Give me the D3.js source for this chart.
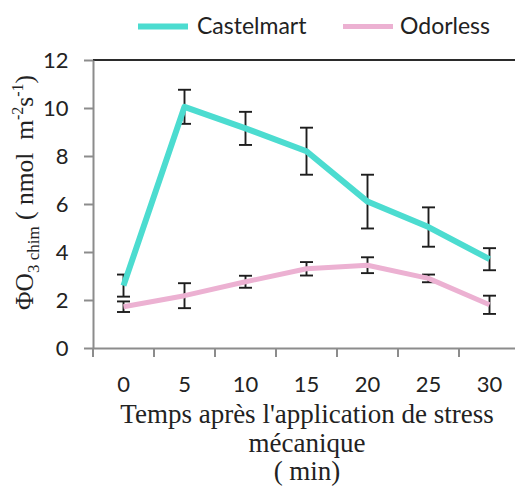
<!DOCTYPE html>
<html>
<head>
<meta charset="utf-8">
<script src="https://cdn.jsdelivr.net/npm/d3@7"></script>
<style>
  html, body { margin: 0; padding: 0; background: #fff; }
  svg { display: block; }
</style>
</head>
<body>
<script>
// Time points (min) after mechanical stress
const times = ["0", "5", "10", "15", "20", "25", "30"];
// Chemical ozone flux, mean and error per time point
const castelmart = [2.6, 10.05, 9.15, 8.2, 6.1, 5.04, 3.7];
const castelmartErr = [0.46, 0.71, 0.69, 0.98, 1.12, 0.82, 0.46];
const odorless = [1.72, 2.18, 2.76, 3.3, 3.45, 2.9, 1.8];
const odorlessErr = [0.22, 0.52, 0.25, 0.28, 0.33, 0.16, 0.38];
const yTicks = [0, 2, 4, 6, 8, 10, 12];

const series = [
  { name: "Castelmart", values: castelmart, errors: castelmartErr, color: "#4cdcd0", width: 6 },
  { name: "Odorless", values: odorless, errors: odorlessErr, color: "#ecb1d2", width: 5 }
];

const W = 515, H = 488;
const plotLeft = 93, plotTop = 60, plotBottom = 348, plotRight = 520;

const svg = d3.select("body").append("svg")
  .attr("width", W).attr("height", H);

const x = d3.scaleBand().domain(times).range([plotLeft, plotRight]).padding(0);
const y = d3.scaleLinear().domain([0, 12]).range([plotBottom, plotTop]);

const sansFont = "Lato, 'Open Sans', sans-serif";
const serifFont = "'Liberation Serif', 'DejaVu Serif', serif";
const axisGrey = "#8c8c8c";
const tickFontSize = 22;

// Top border of the plot area
svg.append("line")
  .attr("x1", plotLeft).attr("x2", plotRight)
  .attr("y1", plotTop).attr("y2", plotTop)
  .attr("stroke", "#2b2b2b").attr("stroke-width", 2);

// Y axis
const yAxis = svg.append("g")
  .attr("transform", `translate(${plotLeft},0)`)
  .call(d3.axisLeft(y).tickValues(yTicks).tickSize(9).tickPadding(15.5).tickSizeOuter(0));
yAxis.select(".domain").attr("stroke", axisGrey).attr("stroke-width", 2);
yAxis.selectAll(".tick line").attr("stroke", axisGrey).attr("stroke-width", 2);
yAxis.selectAll(".tick text")
  .attr("font-family", sansFont).attr("font-size", tickFontSize).attr("fill", "#222");

// X axis: labels centred in bands, ticks on band boundaries
const xAxis = svg.append("g")
  .attr("transform", `translate(0,${plotBottom})`)
  .call(d3.axisBottom(x).tickSize(0).tickPadding(28).tickSizeOuter(0));
xAxis.select(".domain").attr("stroke", axisGrey).attr("stroke-width", 2);
xAxis.selectAll(".tick text")
  .attr("font-family", sansFont).attr("font-size", tickFontSize).attr("fill", "#222");
xAxis.selectAll(".sep")
  .data(times)
  .enter().append("line")
  .attr("class", "sep")
  .attr("x1", d => x(d)).attr("x2", d => x(d))
  .attr("y1", 0).attr("y2", 9)
  .attr("stroke", axisGrey).attr("stroke-width", 2);

// Error bars
const capHalf = 6.5;
series.forEach(s => {
  const g = svg.append("g").attr("class", "err");
  times.forEach((t, i) => {
    const cx = x(t) + x.bandwidth() / 2;
    const hi = y(s.values[i] + s.errors[i]);
    const lo = y(s.values[i] - s.errors[i]);
    g.append("line").attr("x1", cx).attr("x2", cx).attr("y1", hi).attr("y2", lo)
      .attr("stroke", "#1e1e1e").attr("stroke-width", 1.9);
    [hi, lo].forEach(yy => {
      g.append("line").attr("x1", cx - capHalf).attr("x2", cx + capHalf)
        .attr("y1", yy).attr("y2", yy)
        .attr("stroke", "#1e1e1e").attr("stroke-width", 1.9);
    });
  });
});

// Series lines
const line = d3.line()
  .x((d, i) => x(times[i]) + x.bandwidth() / 2)
  .y(d => y(d));
series.slice().reverse().forEach(s => {
  svg.append("path")
    .datum(s.values)
    .attr("d", line)
    .attr("fill", "none")
    .attr("stroke", s.color)
    .attr("stroke-width", s.width)
    .attr("stroke-linejoin", "round");
});

// Legend
const legendItems = [
  { s: series[0], x1: 138, x2: 188, tx: 197 },
  { s: series[1], x1: 343, x2: 393, tx: 400 }
];
const legendY = 26.5;
legendItems.forEach(it => {
  svg.append("line")
    .attr("x1", it.x1).attr("x2", it.x2)
    .attr("y1", legendY).attr("y2", legendY)
    .attr("stroke", it.s.color).attr("stroke-width", it.s.width);
  svg.append("text")
    .attr("x", it.tx).attr("y", 34)
    .attr("font-family", sansFont).attr("font-size", 23).attr("fill", "#222")
    .text(it.s.name);
});

// X axis title
const xTitle = ["Temps après l'application de stress", "mécanique", "( min)"];
svg.append("g").selectAll("text")
  .data(xTitle).enter().append("text")
  .attr("x", 307).attr("y", (d, i) => 423 + i * 28.5)
  .attr("text-anchor", "middle")
  .attr("font-family", serifFont).attr("font-size", 27).attr("fill", "#222")
  .text(d => d);

// Y axis title with sub/superscripts
const yt = svg.append("text")
  .attr("transform", "translate(33,192.5) rotate(-90)")
  .attr("text-anchor", "middle")
  .style("white-space", "pre")
  .attr("font-family", serifFont).attr("font-size", 25.5).attr("fill", "#222");
yt.append("tspan").text("ΦO");
yt.append("tspan").attr("font-size", 17).attr("dy", 6).text("3 chim");
yt.append("tspan").attr("dy", -6).text(" ( nmol\u00a0 m");
yt.append("tspan").attr("font-size", 16).attr("dy", -10).text("-2");
yt.append("tspan").attr("dy", 10).text("s");
yt.append("tspan").attr("font-size", 16).attr("dy", -10).text("-1");
yt.append("tspan").attr("dy", 10).text(")");
</script>
</body>
</html>
